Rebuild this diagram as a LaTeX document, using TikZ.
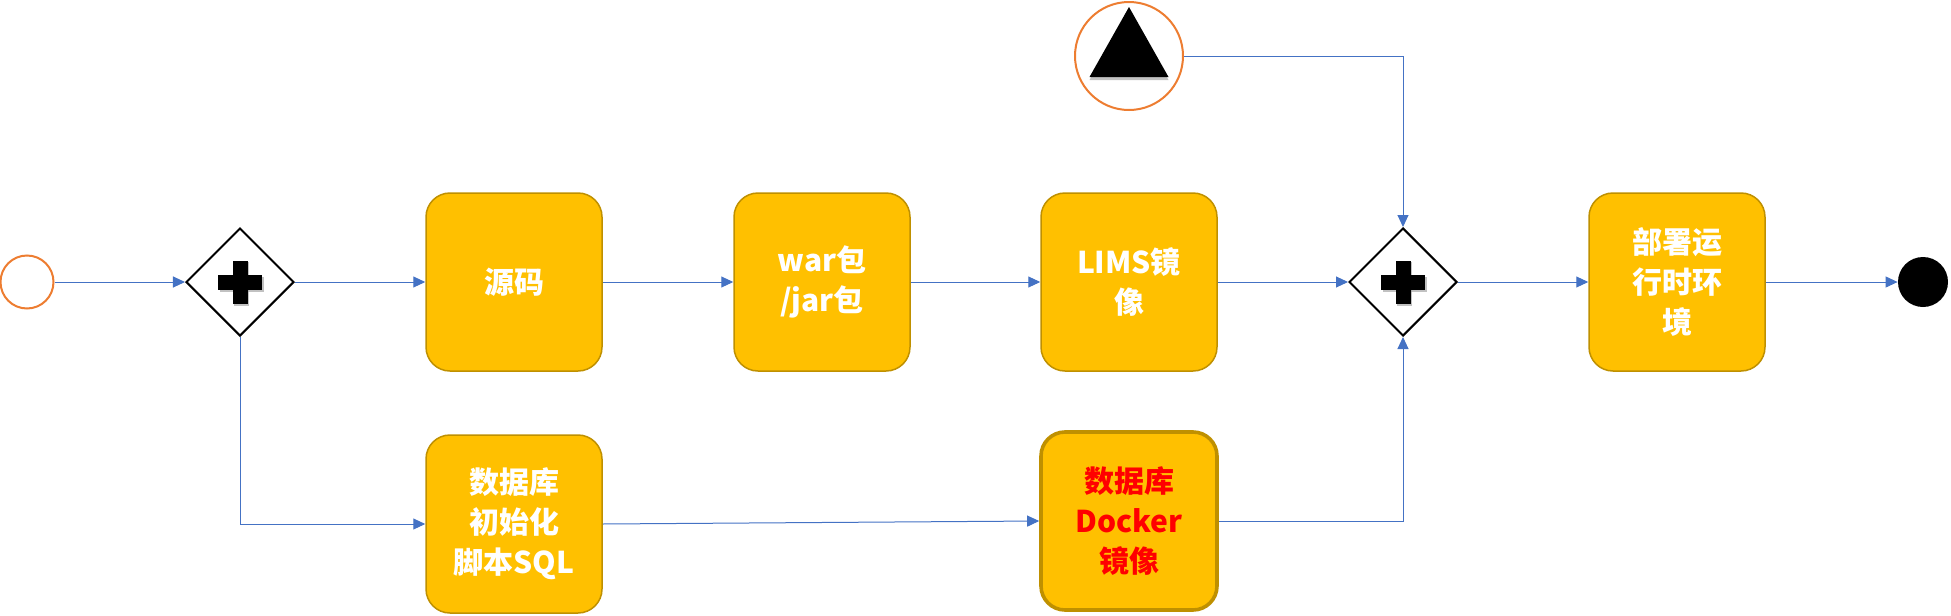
\documentclass[tikz,border=0pt]{standalone}
\usepackage{fontspec}
\newfontfamily\cjk{Noto Sans CJK SC}
\usepackage{tikz}
\usetikzlibrary{
    arrows.meta,
    shapes.geometric
}
\definecolor{boxfill}{HTML}{FFC000}
\definecolor{boxline}{HTML}{BF9000}
\definecolor{flow}{HTML}{4472C4}
\definecolor{eventline}{HTML}{ED7D31}
\tikzset{
    % rounded task box
    task/.style={
        draw=boxline, fill=boxfill, line width=0.75pt,
        rounded corners=12pt,
        minimum width=88pt, minimum height=89pt,
        align=center, text=white,
        font=\cjk\bfseries\fontsize{15}{20}\selectfont
    },
    % parallel gateway
    gateway/.style={
        diamond, draw, line width=1pt, fill=white,
        minimum width=54pt, minimum height=54pt, inner sep=0pt
    },
    % sequence flow
    flowline/.style={
        draw=flow, line width=0.5pt,
        -{Triangle[length=6pt, width=5.5pt]}
    }
}

\begin{document}
\begin{tikzpicture}[x=0.5pt, y=-0.5pt]
            \useasboundingbox (0,0) rectangle (1951,616);
            \node[circle, draw=eventline, line width=1pt, minimum size=26.5pt, inner sep=0pt] (start) at (27,282) {};
            \node[gateway] (split) at (240,282) {};
            \node[task] (src) at (514,282) {源码};
            \node[task] (war) at (822,282) {war包\\/jar包};
            \node[task] (lims) at (1129,282) {LIMS镜\\像};
            \node[gateway] (join) at (1403,282) {};
            \node[task] (deploy) at (1677,282) {部署运\\行时环\\境};
            \node[circle, fill=black, minimum size=25pt, inner sep=0pt] (finish) at (1923,282) {};
            \node[task] (sql) at (514,524) {数据库\\初始化\\脚本SQL};
            \node[task, line width=1.8pt, text=red] (docker) at (1129,521) {数据库\\Docker\\镜像};
            \node[circle, draw=eventline, line width=1pt, minimum size=54pt, inner sep=0pt] (trigger) at (1129,56) {};
            % gateway markers
            \foreach \g in {split, join} {
                \fill[black!40, opacity=0.6] ([shift={(-3pt,-12pt)}]\g.center) rectangle ([shift={(4.5pt,10pt)}]\g.center);
                \fill[black!40, opacity=0.6] ([shift={(-10.25pt,-4.75pt)}]\g.center) rectangle ([shift={(11.75pt,2.75pt)}]\g.center);
                \fill[black] ([shift={(-3.75pt,-10.75pt)}]\g.center) rectangle ([shift={(3.75pt,10.75pt)}]\g.center);
                \fill[black] ([shift={(-11pt,-3.75pt)}]\g.center) rectangle ([shift={(11pt,3.75pt)}]\g.center);
            }
            % signal marker
            \fill[black!40, opacity=0.6] ([shift={(0pt,22pt)}]trigger.center) -- ([shift={(-19.75pt,-12pt)}]trigger.center) -- ([shift={(19.75pt,-12pt)}]trigger.center) -- cycle;
            \fill[black] ([shift={(0pt,24.5pt)}]trigger.center) -- ([shift={(-19.75pt,-10.5pt)}]trigger.center) -- ([shift={(19.75pt,-10.5pt)}]trigger.center) -- cycle;
            \begin{scope}[flowline]
                \draw (start) -- (split);
                \draw (split) -- (src);
                \draw (src) -- (war);
                \draw (war) -- (lims);
                \draw (lims) -- (join);
                \draw (join) -- (deploy);
                \draw (deploy) -- (finish);
                \draw (split.south) |- (sql.west);
                \draw (sql.east) -- (docker.west);
                \draw (docker.east) -| (join.south);
                \draw (trigger.east) -| (join.north);
            \end{scope}
        \end{tikzpicture}
\end{document}
